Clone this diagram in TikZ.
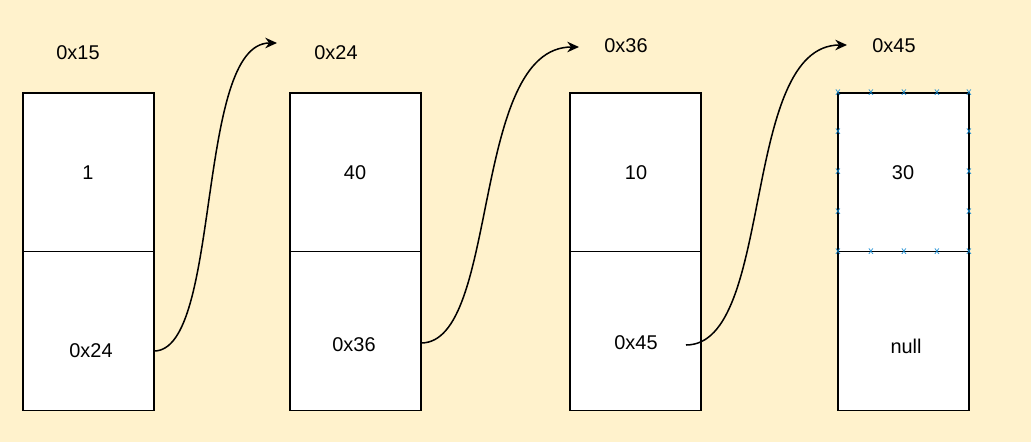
\documentclass[tikz,border=0pt]{standalone}
\usepackage{fontspec}
\setmainfont{Liberation Sans}
\usetikzlibrary{arrows.meta}
\definecolor{bg}{RGB}{255,242,204}
\begin{document}
\begin{tikzpicture}[x=0.03cm,y=-0.03cm,
  cell/.style={draw,line width=1.3pt,fill=white,minimum width=3.93cm,minimum height=4.77cm,inner sep=0},
  lbl/.style={font=\fontsize{17}{19}\selectfont},
  link/.style={-{Stealth[length=10pt,width=9pt]},line width=1.3pt},
  mk/.style={text=cyan!70!blue,font=\fontsize{9}{9}\selectfont,inner sep=0}]
\fill[bg] (0,0) rectangle (1031,442);
\useasboundingbox (0,0) rectangle (1031,442);
\foreach \n/\x in {a/88.5,b/355.5,c/635.5,d/903.5}{
  \node[cell] (\n1) at (\x,172.5) {};
  \node[cell] (\n2) at (\x,331) {};
}
\node[lbl] (la) at (78,53) {0x15};
\node[lbl] (lb) at (336,53) {0x24};
\node[lbl] (lc) at (626,46) {0x36};
\node[lbl] (ld) at (894,46) {0x45};
\node[lbl] (va) at (88,173) {1};
\node[lbl] (vb) at (355,173) {40};
\node[lbl] (vc) at (636,173) {10};
\node[lbl] (vd) at (903,173) {30};
\node[lbl] (pa) at (91,351) {0x24};
\node[lbl] (pb) at (354,345) {0x36};
\node[lbl] (pc) at (636,343) {0x45};
\node[lbl] (pd) at (906,346) {null};
\coordinate (s1) at (154,351); \coordinate (e1) at (277,43);
\coordinate (s2) at (421,343); \coordinate (e2) at (579,47);
\coordinate (s3) at (686,345); \coordinate (e3) at (847,45);
\draw[link] (s1) .. controls (222,351) and (195,43) .. (e1);
\draw[link] (s2) .. controls (500,343) and (470,47) .. (e2);
\draw[link] (s3) .. controls (775,345) and (740,45) .. (e3);
\foreach \x in {838,871,904,937,969}{
  \node[mk] at (\x,93) {x}; \node[mk] at (\x,252) {x};}
\foreach \y in {132,172,212}{
  \node[mk] at (838,\y) {x}; \node[mk] at (969,\y) {x};}
\end{tikzpicture}
\end{document}
